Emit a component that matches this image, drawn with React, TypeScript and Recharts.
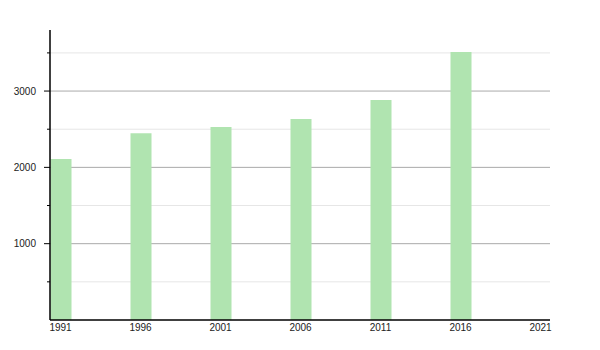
import React from "react";
import { BarChart, Bar, XAxis, YAxis, CartesianGrid } from "recharts";

const years = [1991, 1996, 2001, 2006, 2011, 2016];
const population = [2110, 2447, 2530, 2634, 2883, 3512];
const xTicks = [1991, 1996, 2001, 2006, 2011, 2016, 2021];
const yAllTicks = [500, 1000, 1500, 2000, 2500, 3000, 3500];
const yMajorTicks = [1000, 2000, 3000];
const yMinorTicks = [500, 1500, 2500, 3500];

const data = years.map((y, i) => ({ year: y, value: population[i] }));

const Y_DOMAIN: [number, number] = [0, 3800];
const X_DOMAIN: [number, number] = [1990.34375, 2021.59375];

const YTick = (props: any) => {
  const { x, y, payload } = props;
  const major = payload.value % 1000 === 0;
  return (
    <g>
      <line x1={x - (major ? 6 : 3)} x2={x} y1={y} y2={y} stroke="#000" strokeWidth={1} />
      {major && (
        <text x={x - 14} y={y} dy="0.35em" textAnchor="end" fontSize={10} fill="#222" fontFamily="Liberation Sans, Arial, sans-serif">
          {payload.value}
        </text>
      )}
    </g>
  );
};

export default function App() {
  return (
    <BarChart
      width={592}
      height={342}
      data={data}
      margin={{ top: 22, right: 50, bottom: 0, left: 0 }}
    >
      <CartesianGrid yAxisId="minor" vertical={false} stroke="#e6e6e6" syncWithTicks />
      <CartesianGrid yAxisId="major" vertical={false} stroke="#aaaaaa" syncWithTicks />
      <XAxis
        dataKey="year"
        type="number"
        domain={X_DOMAIN}
        ticks={xTicks}
        allowDataOverflow
        tickLine={false}
        tickSize={0}
        tickMargin={4}
        height={30}
        stroke="#000"
        strokeWidth={1.5}
        tick={{ fontSize: 10, fill: "#222", fontFamily: "Liberation Sans, Arial, sans-serif" }}
      />
      <YAxis
        yAxisId="all"
        domain={Y_DOMAIN}
        ticks={yAllTicks}
        allowDataOverflow
        width={42}
        tickLine={false}
        tickSize={0}
        tickMargin={0}
        stroke="#000"
        strokeWidth={1.5}
        tick={<YTick />}
        interval={0}
      />
      <YAxis yAxisId="major" hide domain={Y_DOMAIN} ticks={yMajorTicks} allowDataOverflow />
      <YAxis yAxisId="minor" hide domain={Y_DOMAIN} ticks={yMinorTicks} allowDataOverflow />
      <Bar yAxisId="all" dataKey="value" fill="#b0e4b0" barSize={21} isAnimationActive={false} />
    </BarChart>
  );
}
